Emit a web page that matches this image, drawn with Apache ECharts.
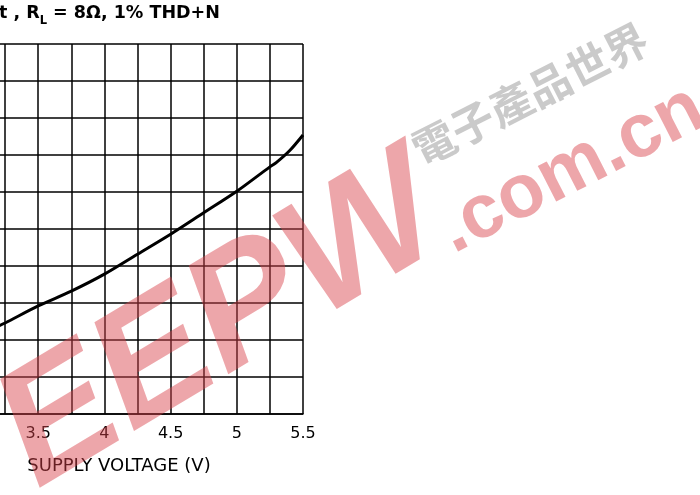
<!DOCTYPE html>
<html>
<head>
<meta charset="utf-8">
<script src="https://cdn.jsdelivr.net/npm/echarts@6/dist/echarts.min.js"></script>
<style>
  html, body { margin: 0; padding: 0; background: #fff; }
</style>
</head>
<body>
<div id="outputPower" style="width:700px;height:495px;"></div>
<script>
// supply voltage (V) and output power (W)
var supplyVoltage = [3.2, 3.25, 3.5, 3.75, 4.0, 4.25, 4.5, 4.75, 5.0, 5.25, 5.3, 5.4, 5.5];
var outputPower = [0.595, 0.615, 0.73, 0.83, 0.945, 1.08, 1.215, 1.36, 1.505, 1.67, 1.70, 1.78, 1.885];
var xTicks = [3.5, 4, 4.5, 5, 5.5];

var chart = echarts.init(document.getElementById('outputPower'));

var points = supplyVoltage.map(function (v, i) { return [v, outputPower[i]]; });

var option = {
    backgroundColor: '#fff',
    animation: false,
    title: {
        left: -6,
        top: -1,
        text: '{a|t , R}{b|L}{a| = 8Ω, 1% THD+N}',
        textStyle: {
            rich: {
                a: { fontFamily: 'DejaVu Sans', fontWeight: 'bold', fontSize: 17.5, lineHeight: 18, verticalAlign: 'top', color: '#000' },
                b: { fontFamily: 'DejaVu Sans', fontWeight: 'bold', fontSize: 11.5, lineHeight: 10, padding: [11, 0, 0, 0], verticalAlign: 'top', color: '#000' }
            }
        }
    },
    grid: { left: -28, right: 397, top: 44, bottom: 81, containLabel: false, outerBoundsMode: 'none' },
    xAxis: {
        type: 'value',
        min: 3,
        max: 5.5,
        interval: 0.25,
        name: 'SUPPLY VOLTAGE (V)',
        nameLocation: 'middle',
        nameGap: 43,
        nameTextStyle: { fontFamily: 'DejaVu Sans', fontSize: 18, color: '#000', padding: [0, 37, 0, 0] },
        axisLine: { lineStyle: { color: '#000', width: 1.5 } },
        axisTick: { show: false },
        axisLabel: {
            margin: 12,
            fontFamily: 'DejaVu Sans',
            fontSize: 16,
            color: '#000',
            formatter: function (v) {
                return xTicks.indexOf(v) >= 0 ? String(v) : '';
            }
        },
        splitLine: { lineStyle: { color: '#000', width: 1.5 } }
    },
    yAxis: {
        type: 'value',
        min: 0,
        max: 2.5,
        interval: 0.25,
        axisLine: { show: false },
        axisTick: { show: false },
        axisLabel: { show: false },
        splitLine: { lineStyle: { color: '#000', width: 1.5 } }
    },
    series: [
        {
            type: 'line',
            data: points,
            smooth: 0.3,
            showSymbol: false,
            lineStyle: { color: '#000', width: 3 },
            z: 5
        }
    ],
    graphic: [
        {
            type: 'text', z: 100,
            x: 222, y: 325, rotation: 31 * Math.PI / 180,
            style: {
                text: 'EEPW', x: 0, y: 0, align: 'center', verticalAlign: 'middle',
                font: 'italic 900 165px "Liberation Sans"',
                fill: 'rgba(217,65,75,0.47)'
            }
        },
        {
            type: 'text', z: 100,
            x: 572, y: 170, rotation: 27 * Math.PI / 180,
            style: {
                text: '.com.cn', x: 0, y: 0, align: 'center', verticalAlign: 'middle',
                font: 'bold 76px "Liberation Sans"',
                fill: 'rgba(217,65,75,0.47)'
            }
        },
        {
            type: 'text', z: 100,
            x: 530, y: 94, rotation: 27 * Math.PI / 180,
            style: {
                text: '電子產品世界', x: 0, y: 0, align: 'center', verticalAlign: 'middle',
                font: 'bold 43px "Noto Sans CJK TC"',
                fill: 'rgba(150,150,150,0.5)'
            }
        }
    ]
};

chart.setOption(option);
</script>
</body>
</html>
